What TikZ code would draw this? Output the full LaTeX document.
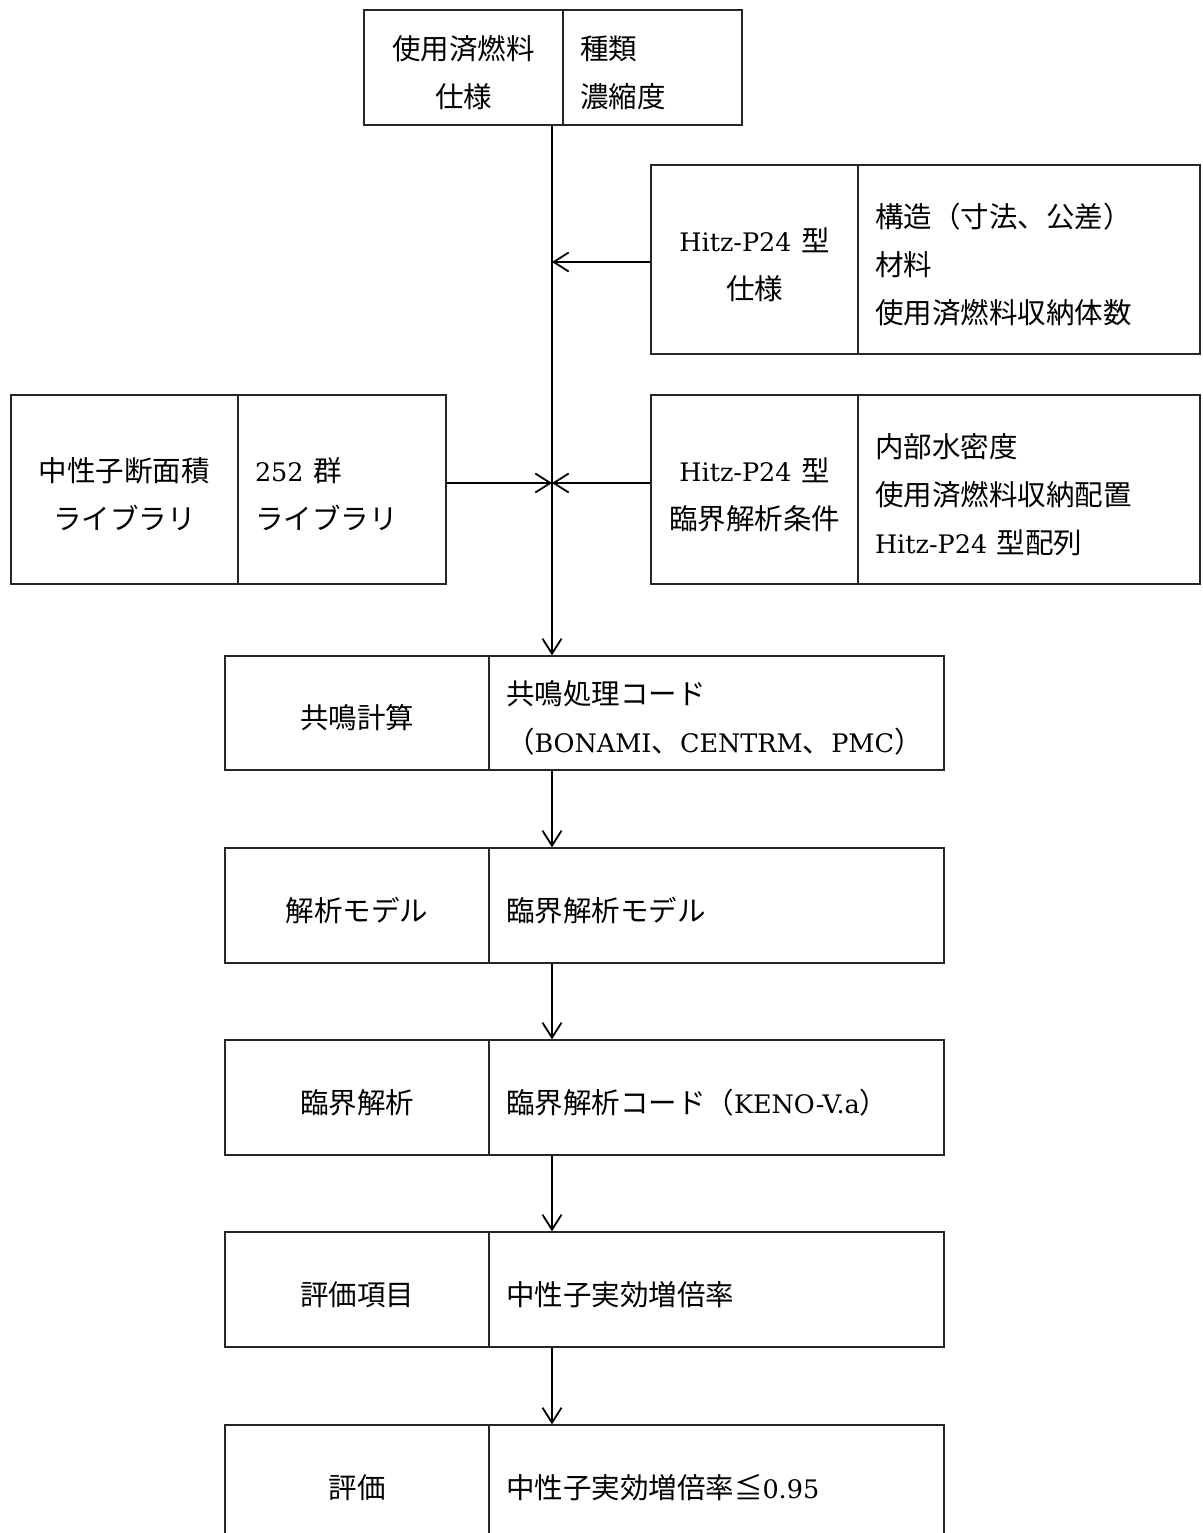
\documentclass[tikz,border=0pt]{standalone}
\usepackage{fontspec}
\newfontfamily\cjk{Noto Sans CJK JP}
\newfontfamily\lat{DejaVu Serif}
\newcommand\LT[1]{{\lat\fontsize{25.5}{48}\selectfont #1}}
\usetikzlibrary{arrows.meta}
\begin{document}
\begin{tikzpicture}[x=1pt,y=-1pt,
  cell/.style={draw=black!85, line width=1.3pt, inner ysep=0pt,
    font=\cjk\fontsize{28.5}{48}\selectfont,
    execute at begin node={\rule{0pt}{34pt}}},
  lc/.style={cell, align=center, inner xsep=5pt},
  rc/.style={cell, align=left, inner xsep=17pt},
  conn/.style={line width=1.8pt},
  arr/.style={conn, -{Straight Barb[length=15pt,width=19pt,line width=1.8pt]}}]
\useasboundingbox (0,0) rectangle (1202,1533);
\fill[white] (0,0) rectangle (1202,1533);
\coordinate (sx) at (552,0);

% top box
\node[lc, text width=189pt, minimum height=115pt] (topL) at (463.5,67.5) {使用済燃料\\仕様};
\node[rc, text width=145pt, minimum height=115pt] (topR) at (652.5,67.5) {種類\\濃縮度};

% Hitz spec
\node[lc, text width=197pt, minimum height=189pt] (hitzL) at (754.5,259.5) {\LT{Hitz-P24}\,\,型\\仕様};
\node[rc, text width=308pt, minimum height=189pt] (hitzR) at (1029,259.5) {構造（寸法、公差）\\材料\\使用済燃料収納体数};

% library
\node[lc, text width=217pt, minimum height=189pt] (libL) at (124.5,489.5) {中性子断面積\\ライブラリ};
\node[rc, text width=174pt, minimum height=189pt] (libR) at (342,489.5) {\LT{252}\,\,群\\ライブラリ};

% conditions
\node[lc, text width=197pt, minimum height=189pt] (condL) at (754.5,489.5) {\LT{Hitz-P24}\,\,型\\臨界解析条件};
\node[rc, text width=308pt, minimum height=189pt] (condR) at (1029,489.5) {内部水密度\\使用済燃料収納配置\\\LT{Hitz-P24}\,\,型配列};

% main chain
\node[lc, text width=254pt, minimum height=114pt] (resL) at (357,713) {共鳴計算};
\node[rc, text width=421pt, minimum height=114pt] (resR) at (716.5,713) {共鳴処理コード\\（\LT{BONAMI}、\LT{CENTRM}、\LT{PMC}）};

\node[lc, text width=254pt, minimum height=115pt] (modL) at (357,905.5) {解析モデル};
\node[rc, text width=421pt, minimum height=115pt] (modR) at (716.5,905.5) {臨界解析モデル};

\node[lc, text width=254pt, minimum height=115pt] (critL) at (357,1097.5) {臨界解析};
\node[rc, text width=421pt, minimum height=115pt] (critR) at (716.5,1097.5) {臨界解析コード（\LT{KENO-V.a}）};

\node[lc, text width=254pt, minimum height=115pt] (evalL) at (357,1289.5) {評価項目};
\node[rc, text width=421pt, minimum height=115pt] (evalR) at (716.5,1289.5) {中性子実効増倍率};

\node[lc, text width=254pt, minimum height=115pt] (finL) at (357,1482.5) {評価};
\node[rc, text width=421pt, minimum height=115pt] (finR) at (716.5,1482.5) {中性子実効増倍率≦\LT{0.95}};

% connectors
\draw[arr] (topL.south -| sx) -- (resR.north -| sx);
\draw[arr] ([yshift=-2.5pt]hitzL.west) -- ([yshift=-2.5pt]hitzL.west -| sx);
\draw[arr] ([yshift=6.5pt]libR.east) -- ([yshift=6.5pt]libR.east -| sx);
\draw[arr] ([yshift=6.5pt]condL.west) -- ([yshift=6.5pt]condL.west -| sx);
\draw[arr] (resR.south -| sx) -- (modR.north -| sx);
\draw[arr] (modR.south -| sx) -- (critR.north -| sx);
\draw[arr] (critR.south -| sx) -- (evalR.north -| sx);
\draw[arr] (evalR.south -| sx) -- (finR.north -| sx);
\end{tikzpicture}
\end{document}
